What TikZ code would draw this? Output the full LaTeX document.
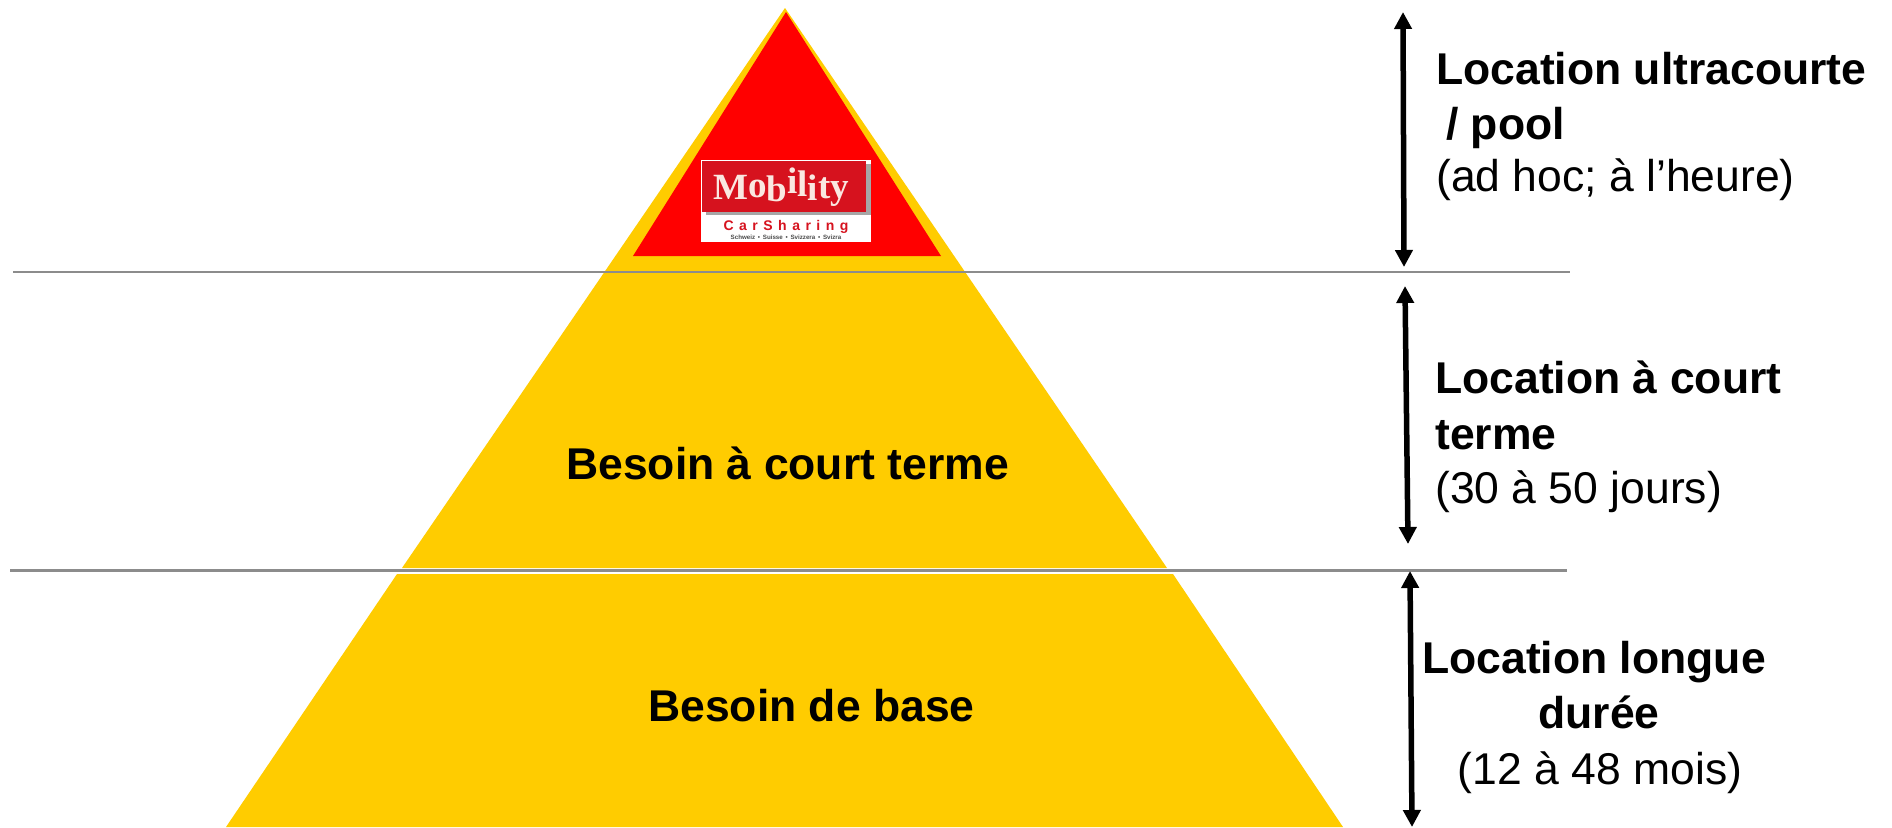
\documentclass[tikz,border=0pt]{standalone}
\usepackage{fontspec}
\setmainfont{Liberation Sans}
\newfontfamily\logofont{Liberation Serif}
\usetikzlibrary{arrows.meta}
\definecolor{pyr}{RGB}{255,204,0}
\definecolor{pyrred}{RGB}{255,0,0}
\definecolor{rule}{RGB}{140,140,140}
\definecolor{logored}{RGB}{214,18,30}
\definecolor{logotext}{RGB}{250,232,225}
\tikzset{
  x=1pt,y=-1pt,
  lab/.style={anchor=base west,inner sep=0pt,font=\fontsize{44.5}{50}\selectfont},
  labc/.style={anchor=base,inner sep=0pt,font=\fontsize{44.5}{50}\selectfont},
  sep/.style={draw=rule,line width=2.6pt},
  span/.style={draw=black,line width=5.5pt,{Triangle[width=17pt,length=17pt]}-{Triangle[width=17pt,length=17pt]},shorten <=0pt,shorten >=0pt},
}
\begin{document}
\begin{tikzpicture}
\useasboundingbox (0,0) rectangle (1892,827);
\fill[white] (0,0) rectangle (1892,827);
% pyramid
\fill[pyr] (785,8) -- (1167,568) -- (402,568) -- cycle;
\fill[pyr] (397,574) -- (1173,574) -- (1343,827) -- (226,827) -- cycle;
\fill[pyrred] (786,12) -- (941,256) -- (633,256) -- cycle;
% logo
\fill[white] (701,160) rectangle (871,242);
\fill[black!35] (706,164) rectangle (871,215);
\fill[logored] (702,161) rectangle (866,212);
\node[anchor=base,inner sep=0pt,text=logotext,font=\logofont\bfseries\fontsize{37}{40}\selectfont] (logoname) at (781,199)
  {M\raisebox{2pt}{o}\raisebox{-2pt}{b}\raisebox{6pt}{i}\raisebox{3pt}{l}\raisebox{-1pt}{i}\raisebox{1pt}{t}\raisebox{1pt}{y}};
\node[anchor=base,inner sep=0pt,text=logored,font=\bfseries\fontsize{14}{16}\selectfont] (logocar) at (786,230)
  {C\hspace{5.5pt}a\hspace{5.5pt}r\hspace{5.5pt}S\hspace{5.5pt}h\hspace{5.5pt}a\hspace{5.5pt}r\hspace{5.5pt}i\hspace{5.5pt}n\hspace{5.5pt}g};
\node[anchor=base,inner sep=0pt,text=black!70,font=\bfseries\fontsize{6.2}{7}\selectfont] (logosub) at (786,239)
  {Schweiz \,•\, Suisse \,•\, Svizzera \,•\, Svizra};
% separators
\coordinate (s1a) at (13,272);
\coordinate (s1b) at (1570,272);
\coordinate (s2a) at (10,570.5);
\coordinate (s2b) at (1567,570.5);
\draw[sep] (s1a) -- (s1b);
\draw[sep] (s2a) -- (s2b);
% spans
\coordinate (a1t) at (1403,12);
\coordinate (a1b) at (1404,267);
\coordinate (a2t) at (1405,286);
\coordinate (a2b) at (1408,544);
\coordinate (a3t) at (1410,571);
\coordinate (a3b) at (1412,827);
\draw[span] (a1t) -- (a1b);
\draw[span] (a2t) -- (a2b);
\draw[span] (a3t) -- (a3b);
% pyramid labels
\node[lab,font=\bfseries\fontsize{44.5}{50}\selectfont] (b1) at (566,479) {Besoin à court terme};
\node[lab,font=\bfseries\fontsize{44.5}{50}\selectfont] (b2) at (648,721) {Besoin de base};
% right labels
\begin{scope}
\clip (1400,20) rectangle (1865,110);
\node[lab,font=\bfseries\fontsize{44.5}{50}\selectfont] (t1) at (1436,84) {Location ultracourte};
\end{scope}
\node[lab,font=\bfseries\fontsize{44.5}{50}\selectfont] (t2) at (1446,139) {/ pool};
\node[lab] (t3) at (1436,191) {(ad hoc; à l’heure)};
\node[lab,font=\bfseries\fontsize{44.5}{50}\selectfont] (t4) at (1435,393) {Location à court};
\node[lab,font=\bfseries\fontsize{44.5}{50}\selectfont] (t5) at (1435,449) {terme};
\node[lab] (t6) at (1435,503) {(30 à 50 jours)};
\node[labc,font=\bfseries\fontsize{44.5}{50}\selectfont] (t7) at (1594,673) {Location longue};
\node[labc,font=\bfseries\fontsize{44.5}{50}\selectfont] (t8) at (1599,728) {durée};
\node[labc] (t9) at (1600,784) {(12 à 48 mois)};
\end{tikzpicture}
\end{document}
